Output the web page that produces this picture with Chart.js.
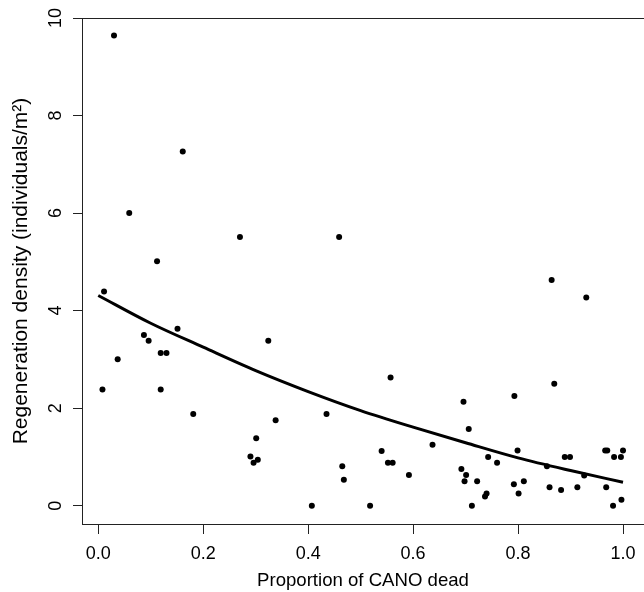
<!DOCTYPE html>
<html>
<head>
<meta charset="utf-8">
<script src="https://cdn.jsdelivr.net/npm/chart.js@4.4.1/dist/chart.umd.min.js"></script>
<style>
    html, body { margin: 0; padding: 0; overflow: hidden; background: #fff; }
    #contenedor { width: 648px; height: 592px; }
</style>
</head>
<body>
<div id="contenedor"><canvas id="grafico" width="648" height="592"></canvas></div>
<script>
// Datos: proporción de CANO muerto vs densidad de regeneración
const proporcionMuertos = [
    0.008, 0.011, 0.030, 0.037, 0.059, 0.087, 0.096, 0.112, 0.119, 0.119,
    0.130, 0.151, 0.161, 0.181, 0.270, 0.290, 0.296, 0.301, 0.304, 0.324,
    0.338, 0.407, 0.435, 0.459, 0.465, 0.468, 0.518, 0.540, 0.552, 0.557,
    0.561, 0.592, 0.637, 0.692, 0.696, 0.698, 0.701, 0.706, 0.712, 0.722,
    0.737, 0.740, 0.743, 0.760, 0.792, 0.793, 0.799, 0.801, 0.811, 0.855,
    0.860, 0.864, 0.869, 0.882, 0.889, 0.899, 0.913, 0.926, 0.930, 0.966,
    0.970, 0.968, 0.981, 0.983, 0.996, 0.997, 1.000
];
const densidadRegeneracion = [
    2.38, 4.39, 9.64, 3.00, 6.00, 3.50, 3.38, 5.01, 3.13, 2.38,
    3.13, 3.63, 7.26, 1.88, 5.51, 1.01, 0.88, 1.38, 0.94, 3.38,
    1.75, 0.00, 1.88, 5.51, 0.81, 0.53, 0.00, 1.12, 0.88, 2.63,
    0.88, 0.63, 1.25, 0.75, 2.13, 0.50, 0.63, 1.57, 0.00, 0.50,
    0.19, 0.25, 1.00, 0.88, 0.44, 2.25, 1.13, 0.25, 0.50, 0.81,
    0.38, 4.63, 2.50, 0.32, 1.00, 1.00, 0.38, 0.62, 4.27, 1.13,
    1.13, 0.38, 0.00, 1.00, 1.00, 0.12, 1.13
];

// Curva ajustada
const curvaX = [0.0, 0.1, 0.2, 0.3, 0.4, 0.5, 0.6, 0.7, 0.8, 0.9, 1.0];
const curvaY = [4.31, 3.74, 3.25, 2.77, 2.34, 1.95, 1.61, 1.29, 0.98, 0.72, 0.48];

// Marcas de los ejes
const ticksX = [0.0, 0.2, 0.4, 0.6, 0.8, 1.0];
const ticksY = [0, 2, 4, 6, 8, 10];

const familia = "'Liberation Sans', Arial, Helvetica, sans-serif";
const fuenteTicks = { family: familia, size: 18 };

// Marco completo alrededor del área de trazado
const marco = {
    id: 'marco',
    afterDraw(chart) {
        const { ctx, chartArea: a } = chart;
        ctx.save();
        ctx.strokeStyle = '#222';
        ctx.lineWidth = 1;
        ctx.strokeRect(Math.round(a.left) + 0.5, Math.round(a.top) + 0.5,
            Math.round(a.right - a.left), Math.round(a.bottom - a.top));
        ctx.restore();
    }
};

function crearGrafico() {
    const ctx = document.getElementById('grafico').getContext('2d');

    new Chart(ctx, {
        type: 'scatter',
        data: {
            datasets: [
                {
                    type: 'line',
                    data: curvaX.map((x, i) => ({ x: x, y: curvaY[i] })),
                    borderColor: '#000',
                    borderWidth: 3,
                    pointRadius: 0,
                    fill: false,
                    cubicInterpolationMode: 'monotone'
                },
                {
                    data: proporcionMuertos.map((x, i) => ({ x: x, y: densidadRegeneracion[i] })),
                    backgroundColor: '#000',
                    borderWidth: 0,
                    pointRadius: 3
                }
            ]
        },
        options: {
            responsive: false,
            animation: false,
            layout: { padding: { top: 18, right: 1, left: 0, bottom: 0 } },
            plugins: {
                legend: { display: false },
                tooltip: { enabled: false }
            },
            scales: {
                x: {
                    type: 'linear',
                    min: -0.031,
                    max: 1.04,
                    afterBuildTicks: s => { s.ticks = ticksX.map(v => ({ value: v })); },
                    afterFit: s => { s.height = 68; },
                    ticks: {
                        callback: v => v.toFixed(1),
                        color: '#000',
                        font: fuenteTicks,
                        padding: 9,
                        autoSkip: false,
                        maxRotation: 0
                    },
                    grid: { drawOnChartArea: false, tickLength: 10, color: '#222' },
                    border: { display: true, color: '#222' },
                    title: {
                        display: true,
                        text: 'Proportion of CANO dead',
                        color: '#000',
                        font: { family: familia, size: 18.6 },
                        padding: { top: 0, bottom: 0 }
                    }
                },
                y: {
                    type: 'linear',
                    min: -0.376,
                    max: 10,
                    afterBuildTicks: s => { s.ticks = ticksY.map(v => ({ value: v })); },
                    afterFit: s => { s.width = 82; },
                    ticks: {
                        callback: v => String(v),
                        color: '#000',
                        font: fuenteTicks,
                        minRotation: 90,
                        maxRotation: 90,
                        crossAlign: 'center',
                        padding: 7
                    },
                    grid: { drawOnChartArea: false, tickLength: 9, color: '#222' },
                    border: { display: true, color: '#222' },
                    title: {
                        display: true,
                        text: 'Regeneration density (individuals/m²)',
                        color: '#000',
                        font: { family: familia, size: 21 },
                        padding: { top: 9, bottom: 0 }
                    }
                }
            }
        },
        plugins: [marco]
    });
}

crearGrafico();
</script>
</body>
</html>
